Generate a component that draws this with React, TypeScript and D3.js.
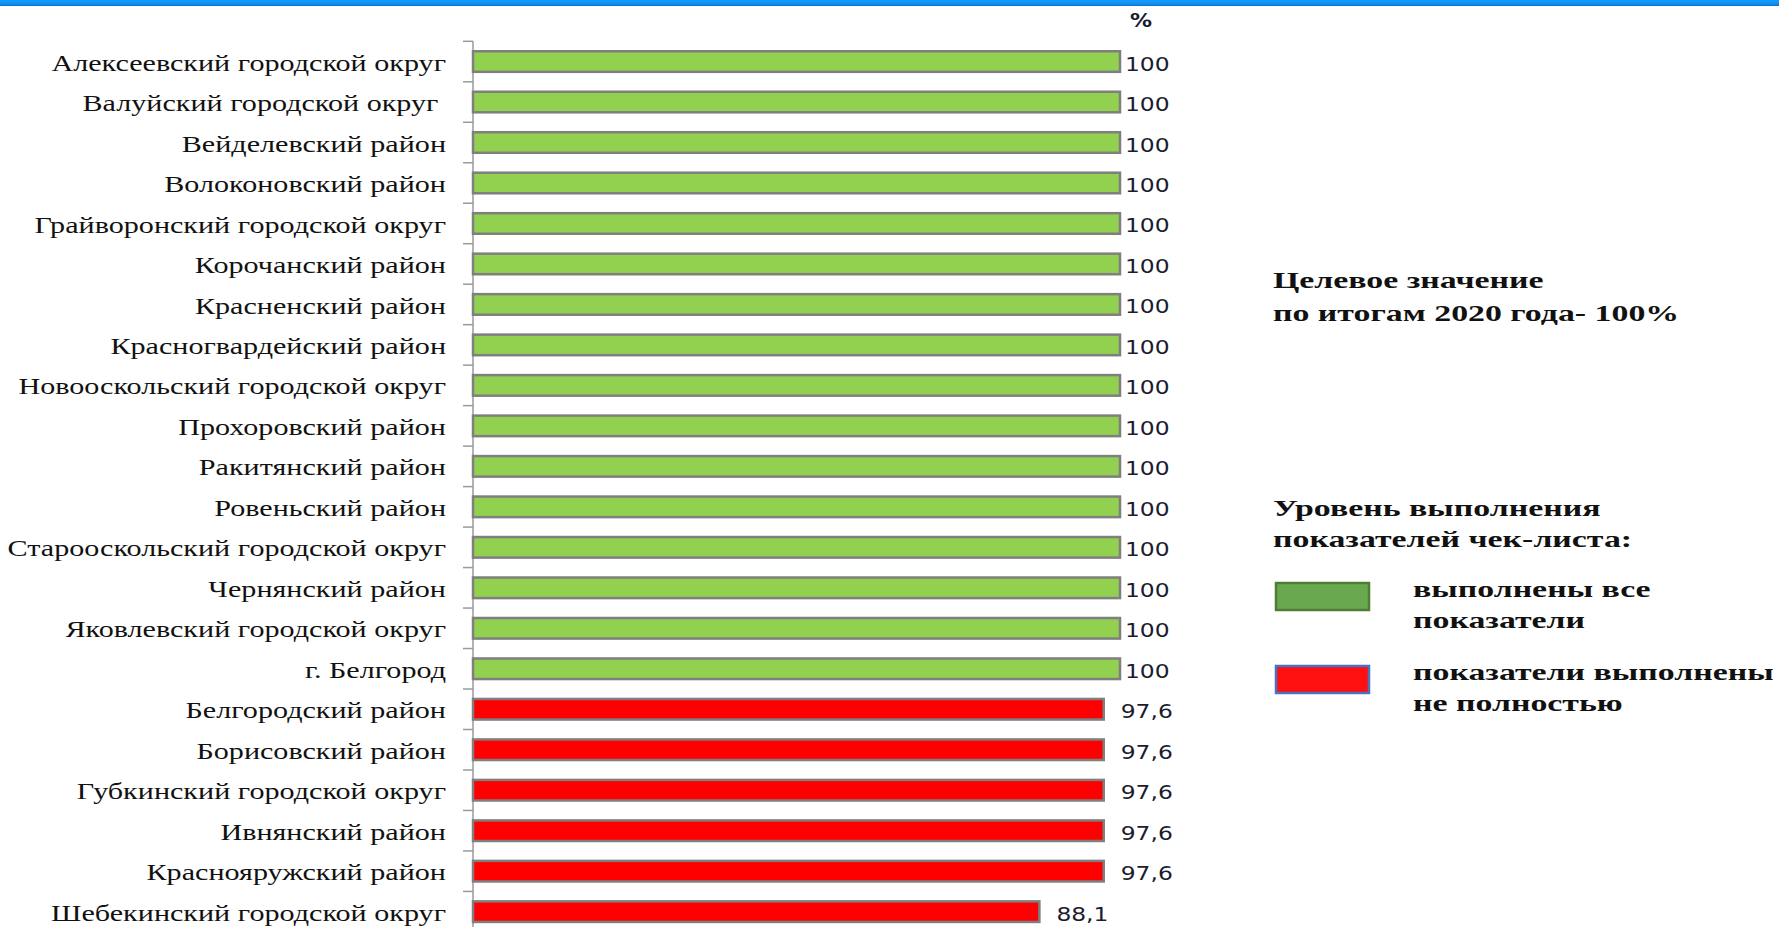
import React from 'react';
import * as d3 from 'd3';

const categories = [
  'Алексеевский городской округ',
  'Валуйский городской округ\u00a0',
  'Вейделевский район',
  'Волоконовский район',
  'Грайворонский городской округ',
  'Корочанский район',
  'Красненский район',
  'Красногвардейский район',
  'Новооскольский городской округ',
  'Прохоровский район',
  'Ракитянский район',
  'Ровеньский район',
  'Старооскольский городской округ',
  'Чернянский район',
  'Яковлевский городской округ',
  'г. Белгород',
  'Белгородский район',
  'Борисовский район',
  'Губкинский городской округ',
  'Ивнянский район',
  'Краснояружский район',
  'Шебекинский городской округ',
];

const values = [
  100, 100, 100, 100, 100, 100, 100, 100, 100, 100, 100, 100, 100, 100, 100, 100,
  97.6, 97.6, 97.6, 97.6, 97.6, 88.1,
];

const TARGET = 100;
const X_MIN = 4.5;

const unitLabel = '%';
const targetLines = ['Целевое значение', 'по итогам 2020 года- 100%'];
const legendTitleLines = ['Уровень выполнения', 'показателей чек-листа:'];
const legendItems = [
  { key: 'full', lines: ['выполнены все', 'показатели'] },
  { key: 'partial', lines: ['показатели выполнены', 'не полностью'] },
];

const W = 1779;
const H = 927;

const fmt = (v: number) => String(v).replace('.', ',');

export default function App() {
  const x = d3.scaleLinear().domain([X_MIN, TARGET]).range([473, 1120]);
  const y = d3
    .scaleBand<string>()
    .domain(categories)
    .range([41.3, 931.9])
    .paddingInner(0.43)
    .paddingOuter(0.215);

  const step = y.step();
  const gapHalf = (step - y.bandwidth()) / 2;
  const tickYs = categories.map((c) => (y(c) as number) - gapHalf);

  const barFill = { full: '#92d050', partial: '#ff0000' } as const;
  const labelGap = { full: 5, partial: 17 } as const;
  const SX = 1.31;
  const LSX = 1.41;

  return (
    <svg
      width={W}
      height={H}
      style={{ position: 'absolute', left: 0, top: 0, display: 'block', background: '#fff' }}
    >
      <defs>
        <linearGradient id="band" x1="0" y1="0" x2="0" y2="1">
          <stop offset="0" stopColor="#1a9cff" />
          <stop offset="0.7" stopColor="#0c8cf2" />
          <stop offset="1" stopColor="#0a6fc2" />
        </linearGradient>
      </defs>
      <rect x={0} y={0} width={W} height={6} fill="url(#band)" />

      {/* axis */}
      <line x1={473} x2={473} y1={tickYs[0]} y2={H} stroke="#9a9a9a" strokeWidth={1.5} />
      {tickYs.map((ty, i) => (
        <line key={'t' + i} x1={463} x2={473} y1={ty} y2={ty} stroke="#9a9a9a" strokeWidth={1.5} />
      ))}

      {/* bars */}
      {categories.map((c, i) => {
        const v = values[i];
        const st = v >= TARGET ? 'full' : 'partial';
        const by = y(c) as number;
        return (
          <g key={c}>
            <rect
              x={x(X_MIN)}
              y={by + 1.25}
              width={x(v) - x(X_MIN)}
              height={y.bandwidth() - 2.5}
              fill={barFill[st]}
              stroke="#7f7f7f"
              strokeWidth={2.5}
            />
            <text
              transform={`translate(${x(v) + labelGap[st]},${by + y.bandwidth() / 2 + 2}) scale(1.2,1)`}
              dy="0.36em"
              fontFamily="'DejaVu Sans', Verdana, sans-serif"
              fontSize={19.5}
              fill="#1c1c30"
            >
              {fmt(v)}
            </text>
            <text
              transform={`translate(446,${by + y.bandwidth() / 2 + 1.5}) scale(${SX},1)`}
              dy="0.33em"
              textAnchor="end"
              fontFamily="'Liberation Serif', 'Times New Roman', serif"
              fontSize={23}
              fill="#111"
              style={{ whiteSpace: 'pre' }}
            >
              {c}
            </text>
          </g>
        );
      })}

      <text
        transform="translate(1130,27) scale(1.1,1)"
        fontFamily="'DejaVu Sans', Verdana, sans-serif"
        fontWeight="bold"
        fontSize={20}
        fill="#1c1c30"
      >
        {unitLabel}
      </text>

      {/* target note */}
      {targetLines.map((t, i) => (
        <text
          key={'tg' + i}
          transform={`translate(1273,${288 + i * 33}) scale(${LSX},1)`}
          fontFamily="'Liberation Serif', 'Times New Roman', serif"
          fontWeight="bold"
          fontSize={24}
          fill="#111"
        >
          {t}
        </text>
      ))}

      {/* legend */}
      {legendTitleLines.map((t, i) => (
        <text
          key={'lt' + i}
          transform={`translate(1273,${516 + i * 31}) scale(${LSX},1)`}
          fontFamily="'Liberation Serif', 'Times New Roman', serif"
          fontWeight="bold"
          fontSize={24}
          fill="#111"
        >
          {t}
        </text>
      ))}
      {legendItems.map((it, k) => {
        const top = k === 0 ? 583 : 666;
        return (
          <g key={it.key}>
            <rect
              x={1276}
              y={top}
              width={93}
              height={27}
              fill={it.key === 'full' ? '#6aa84f' : '#ff1010'}
              stroke={it.key === 'full' ? '#4f7d33' : '#4a72c0'}
              strokeWidth={2.5}
            />
            {it.lines.map((t, j) => (
              <text
                key={j}
                transform={`translate(1413,${top + 14 + j * 31}) scale(${LSX},1)`}
                fontFamily="'Liberation Serif', 'Times New Roman', serif"
                fontWeight="bold"
                fontSize={24}
                fill="#111"
              >
                {t}
              </text>
            ))}
          </g>
        );
      })}
    </svg>
  );
}
